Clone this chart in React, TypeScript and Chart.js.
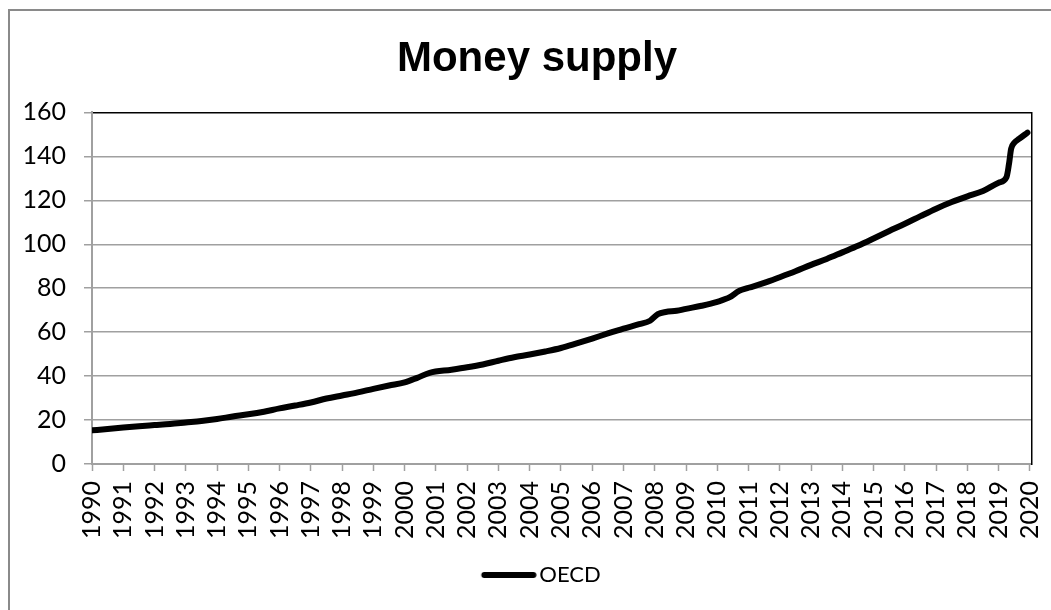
import React, { useEffect, useRef } from "react";
import { Chart, registerables } from "chart.js";

Chart.register(...registerables);

// Readings of the OECD money supply index (decimal year -> value)
const years: number[] = [
  1990.0, 1990.5, 1991.0, 1991.5, 1992.0, 1992.5, 1993.0, 1993.5, 1994.0, 1994.5,
  1995.0, 1995.5, 1996.0, 1996.5, 1997.0, 1997.5, 1998.0, 1998.5, 1999.0, 1999.5,
  2000.0, 2000.4, 2000.8, 2001.5, 2002.0, 2002.5, 2003.0, 2003.5, 2004.0, 2004.5,
  2005.0, 2005.5, 2006.0, 2006.5, 2007.0, 2007.5, 2007.85, 2008.1, 2008.35, 2008.7,
  2009.0, 2009.5, 2010.0, 2010.4, 2010.7, 2011.0, 2011.5, 2012.0, 2012.5, 2013.0,
  2013.5, 2014.0, 2014.5, 2015.0, 2015.5, 2016.0, 2016.5, 2017.0, 2017.5, 2018.0,
  2018.5, 2019.0, 2019.25, 2019.33, 2019.4, 2019.5, 2019.65, 2019.92,
];
const oecd: number[] = [
  15.3, 15.9, 16.6, 17.2, 17.7, 18.2, 18.9, 19.6, 20.5, 21.6,
  22.6, 23.8, 25.3, 26.6, 28.0, 29.8, 31.2, 32.6, 34.2, 35.7,
  37.1, 39.2, 41.5, 42.9, 44.0, 45.3, 47.0, 48.6, 49.8, 51.2,
  52.8, 54.9, 57.1, 59.4, 61.6, 63.6, 65.2, 68.2, 69.2, 69.7,
  70.6, 72.0, 73.8, 75.9, 78.8, 80.2, 82.4, 85.0, 87.7, 90.6,
  93.3, 96.3, 99.3, 102.6, 106.0, 109.3, 112.8, 116.2, 119.2, 121.8,
  124.2, 128.0, 130.5, 136.5, 143.5, 146.2, 147.9, 150.8,
];

const chartTitle = "Money supply";
const seriesLabel = "OECD";
const yMin = 0;
const yMax = 160;
const yStep = 20;
const xFirstYear = 1990;
const xLastYear = 2020;

const FONT = "Lato, 'Open Sans', sans-serif";
const GRID = "#a0a0a0";

// Legend swatch: a thick black stroke that sits right next to the label text
function makeLegendSwatch(): HTMLCanvasElement {
  const c = document.createElement("canvas");
  c.width = 72;
  c.height = 12;
  const g = c.getContext("2d");
  if (g) {
    g.strokeStyle = "#000000";
    g.lineWidth = 6;
    g.lineCap = "round";
    g.beginPath();
    g.moveTo(19.5, 6);
    g.lineTo(68.5, 6);
    g.stroke();
  }
  return c;
}

export default function App() {
  const canvasRef = useRef<HTMLCanvasElement | null>(null);

  useEffect(() => {
    const canvas = canvasRef.current;
    if (!canvas) return;
    const swatch = makeLegendSwatch();
    const chart = new Chart(canvas, {
      type: "line",
      data: {
        datasets: [
          {
            label: seriesLabel,
            data: years.map((x, i) => ({ x, y: oecd[i] })),
            borderColor: "#000000",
            backgroundColor: "#000000",
            borderWidth: 6,
            borderCapStyle: "round",
            borderJoinStyle: "round",
            pointRadius: 0,
            pointHoverRadius: 0,
            pointStyle: swatch as any,
            cubicInterpolationMode: "monotone",
            fill: false,
          },
        ],
      },
      options: {
        responsive: false,
        animation: false,
        events: [],
        layout: { padding: { left: 0, right: 6, top: 0, bottom: 0 } },
        plugins: {
          tooltip: { enabled: false },
          title: {
            display: true,
            text: chartTitle,
            color: "#000000",
            font: { family: "'Liberation Sans', Arial, sans-serif", size: 42, weight: "bold" },
            padding: { top: 23, bottom: 28 },
          },
          legend: {
            display: true,
            position: "bottom",
            labels: {
              color: "#000000",
              font: { family: FONT, size: 22 },
              usePointStyle: true,
              pointStyleWidth: 55,
              boxHeight: 22,
              padding: 10,
            },
          },
        },
        scales: {
          x: {
            type: "linear",
            min: xFirstYear,
            max: xLastYear + 0.06,
            afterFit: (s: any) => {
              s.height = 90;
            },
            ticks: {
              stepSize: 1,
              includeBounds: false,
              autoSkip: false,
              minRotation: 90,
              maxRotation: 90,
              padding: 10,
              color: "#000000",
              font: { family: FONT, size: 25 },
              callback: (v: any) => String(v),
            },
            grid: {
              drawOnChartArea: false,
              drawTicks: true,
              tickLength: 7,
              tickColor: GRID,
              tickWidth: 1.5,
            },
            border: { color: GRID, width: 2 },
          },
          y: {
            type: "linear",
            position: "left",
            min: yMin,
            max: yMax,
            afterFit: (s: any) => {
              s.width = 82;
            },
            ticks: {
              stepSize: yStep,
              padding: 18,
              color: "#000000",
              font: { family: FONT, size: 25 },
            },
            grid: {
              color: (ctx: any) => (ctx.tick && ctx.tick.value === yMax ? "#000000" : GRID),
              lineWidth: 1.5,
              tickLength: 8,
              tickColor: GRID,
              tickWidth: 1.5,
            },
            border: { color: GRID, width: 2 },
          },
          yRight: {
            type: "linear",
            position: "right",
            min: yMin,
            max: yMax,
            afterFit: (s: any) => {
              s.width = 32;
            },
            ticks: { display: false },
            grid: { drawOnChartArea: false, drawTicks: false },
            border: { color: "#000000", width: 1.5 },
          },
        },
      },
    });
    return () => chart.destroy();
  }, []);

  return (
    <div
      style={{
        position: "fixed",
        left: 8,
        top: 9,
        width: 1100,
        height: 700,
        borderLeft: "2px solid #8a8a8a",
        borderTop: "2px solid #8a8a8a",
        background: "#ffffff",
      }}
    >
      <canvas ref={canvasRef} width={1060} height={585} style={{ display: "block" }} />
    </div>
  );
}
